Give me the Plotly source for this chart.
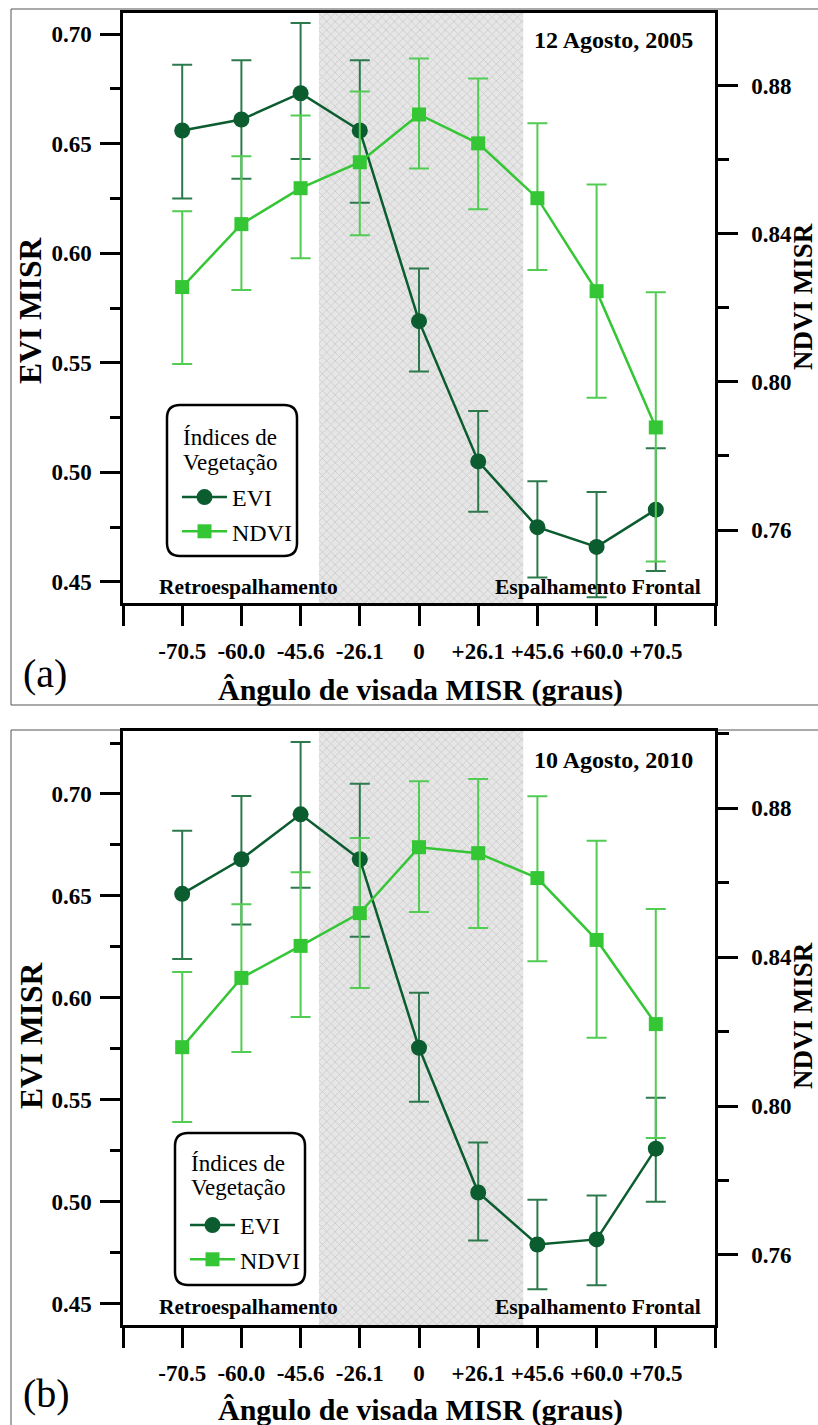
import plotly.graph_objects as go

W, H = 818, 1425

# ---------------- data ----------------
angles = ["-70.5", "-60.0", "-45.6", "-26.1", "0", "+26.1", "+45.6", "+60.0", "+70.5"]

# panel (a) 12 Agosto 2005
evi_a = [0.656, 0.661, 0.673, 0.656, 0.569, 0.505, 0.475, 0.466, 0.483]
evi_a_up = [0.686, 0.688, 0.705, 0.688, 0.593, 0.528, 0.496, 0.491, 0.511]
evi_a_lo = [0.625, 0.634, 0.643, 0.623, 0.546, 0.482, 0.452, 0.443, 0.455]
ndvi_a = [0.8256, 0.8426, 0.8523, 0.8593, 0.8722, 0.8644, 0.8496, 0.8245, 0.7877]
ndvi_a_up = [0.8461, 0.8609, 0.8719, 0.8784, 0.8873, 0.8819, 0.8698, 0.8533, 0.8242]
ndvi_a_lo = [0.8048, 0.8248, 0.8334, 0.8396, 0.8576, 0.8466, 0.8302, 0.7957, 0.7515]

# panel (b) 10 Agosto 2010
evi_b = [0.651, 0.668, 0.690, 0.668, 0.5755, 0.5045, 0.479, 0.4815, 0.526]
evi_b_up = [0.682, 0.699, 0.7255, 0.705, 0.6025, 0.529, 0.501, 0.503, 0.551]
evi_b_lo = [0.619, 0.636, 0.654, 0.630, 0.549, 0.481, 0.457, 0.459, 0.500]
ndvi_b = [0.8158, 0.8344, 0.8430, 0.8518, 0.8695, 0.8679, 0.8612, 0.8446, 0.8220]
ndvi_b_up = [0.8360, 0.8542, 0.8628, 0.8720, 0.8872, 0.8878, 0.8832, 0.8712, 0.8529]
ndvi_b_lo = [0.7957, 0.8145, 0.8239, 0.8317, 0.8521, 0.8478, 0.8389, 0.8183, 0.7914]

shade_x0, shade_x1 = 2.31, 5.76   # shaded (near-nadir) band, in category index units

# axis ranges
evi_range_a = [0.4404, 0.7096]
ndvi_range_a = [0.7403, 0.8996]
evi_range_b = [0.4395, 0.7309]
ndvi_range_b = [0.7412, 0.9007]

# ---------------- style ----------------
FONT = "Liberation Serif, Times New Roman, serif"
EVI_C = "#0b5c2f"
EVI_ERR = "#2c7a4c"
NDVI_C = "#34c634"
NDVI_ERR = "#52cc52"


def px(x):
    return x / W


def py(y):
    return 1 - y / H


xpos = list(range(len(angles)))
tickvals = list(range(-1, len(angles) + 1))
ticktext = [""] + angles + [""]

fig = go.Figure()


def add_panel(xa, ya, ya2, evi, eup, elo, ndvi, nup, nlo, erange, legend):
    # shaded band drawn as a patterned bar
    fig.add_trace(go.Bar(
        x=[(shade_x0 + shade_x1) / 2], y=[erange[1] - erange[0]], base=[erange[0]],
        width=[shade_x1 - shade_x0], xaxis=xa, yaxis=ya, showlegend=False, hoverinfo="skip",
        marker=dict(color="#e2e2e2", line_width=0,
                    pattern=dict(shape="x", fgcolor="#b2b2b2", bgcolor="#e6e6e6",
                                 size=6, solidity=0.28)),
    ))
    fig.add_trace(go.Scatter(
        x=xpos, y=evi, mode="lines+markers", name="EVI", xaxis=xa, yaxis=ya, legend=legend,
        line=dict(color=EVI_C, width=2.5),
        marker=dict(symbol="circle", size=16, color=EVI_C),
        error_y=dict(type="data", array=[u - v for u, v in zip(eup, evi)],
                     arrayminus=[v - l for v, l in zip(evi, elo)],
                     color=EVI_ERR, thickness=2, width=10),
    ))
    fig.add_trace(go.Scatter(
        x=xpos, y=ndvi, mode="lines+markers", name="NDVI", xaxis=xa, yaxis=ya2, legend=legend,
        line=dict(color=NDVI_C, width=2.5),
        marker=dict(symbol="square", size=14, color=NDVI_C),
        error_y=dict(type="data", array=[u - v for u, v in zip(nup, ndvi)],
                     arrayminus=[v - l for v, l in zip(ndvi, nlo)],
                     color=NDVI_ERR, thickness=2, width=10),
    ))


add_panel("x", "y", "y2", evi_a, evi_a_up, evi_a_lo, ndvi_a, ndvi_a_up, ndvi_a_lo, evi_range_a, "legend")
add_panel("x2", "y3", "y4", evi_b, evi_b_up, evi_b_lo, ndvi_b, ndvi_b_up, ndvi_b_lo, evi_range_b, "legend2")

tickfont = dict(family=FONT, size=23, color="black", weight="bold")
xdom = [px(123), px(715)]


def xaxis(anchor):
    return dict(domain=xdom, anchor=anchor, range=[-1, len(angles)], tickmode="array",
                tickvals=tickvals, ticktext=ticktext, ticks="outside", ticklen=20, tickwidth=2.5,
                tickcolor="black", showline=True, linewidth=2.5, linecolor="black", mirror=True,
                showgrid=False, zeroline=False, tickfont=tickfont, ticklabelstandoff=6,
                automargin=False)


def yleft(dom, rng, anchor):
    return dict(domain=dom, anchor=anchor, range=rng, tick0=0.45, dtick=0.05, tickformat=".2f",
                ticks="outside", ticklen=20, tickwidth=2.5, tickcolor="black",
                minor=dict(tick0=0.425, dtick=0.025, ticks="outside", ticklen=10, tickwidth=2.5,
                           tickcolor="black", showgrid=False),
                showline=True, linewidth=2.5, linecolor="black", showgrid=False, zeroline=False,
                tickfont=tickfont, ticklabelstandoff=4, automargin=False)


def yright(overlay, rng, anchor):
    return dict(overlaying=overlay, side="right", anchor=anchor, range=rng, tick0=0.76, dtick=0.04,
                tickformat=".2f", ticks="outside", ticklen=20, tickwidth=2.5, tickcolor="black",
                minor=dict(tick0=0.74, dtick=0.02, ticks="outside", ticklen=11, tickwidth=2.5,
                           tickcolor="black", showgrid=False),
                showline=True, linewidth=2.5, linecolor="black", showgrid=False, zeroline=False,
                tickfont=tickfont, ticklabelstandoff=9, automargin=False)


legfont = dict(family=FONT, size=24, color="black")


def legend(xp, yp):
    return dict(x=px(xp), y=py(yp), xanchor="left", yanchor="top", bgcolor="rgba(0,0,0,0)",
                borderwidth=0, font=legfont, itemwidth=45, tracegroupgap=0)


def rounded_box(x0, y0, x1, y1, r):
    X0, X1 = px(x0), px(x1)
    Y0, Y1 = py(y0), py(y1)
    rx, ry = r / W, r / H
    return (f"M{X0 + rx},{Y0} L{X1 - rx},{Y0} Q{X1},{Y0} {X1},{Y0 - ry} "
            f"L{X1},{Y1 + ry} Q{X1},{Y1} {X1 - rx},{Y1} L{X0 + rx},{Y1} "
            f"Q{X0},{Y1} {X0},{Y1 + ry} L{X0},{Y0 - ry} Q{X0},{Y0} {X0 + rx},{Y0} Z")


shapes = [
    dict(type="rect", xref="paper", yref="paper", x0=px(11), x1=1.01, y0=py(9), y1=py(705),
         line=dict(color="#555555", width=1), layer="below"),
    dict(type="rect", xref="paper", yref="paper", x0=px(11), x1=1.01, y0=py(730), y1=-0.01,
         line=dict(color="#555555", width=1), layer="below"),
    dict(type="path", xref="paper", yref="paper", path=rounded_box(167, 405, 297, 556, 13),
         line=dict(color="black", width=2.5)),
    dict(type="path", xref="paper", yref="paper", path=rounded_box(175, 1133, 305, 1285, 13),
         line=dict(color="black", width=2.5)),
]

annots = []


def ann(text, x, y, size, bold=True, xanchor="center", angle=0):
    annots.append(dict(text=text, x=px(x), y=py(y), xref="paper", yref="paper", showarrow=False,
                       xanchor=xanchor, yanchor="middle", textangle=angle,
                       font=dict(family=FONT, size=size, color="black",
                                 weight="bold" if bold else "normal")))


for (dy, date, lab, lx) in [(0, "12 Agosto, 2005", "(a)", 0), (725, "10 Agosto, 2010", "(b)", 8)]:
    sdy = dy - (5 if dy else 0)
    ann(date, 695, 40 + sdy, 24, xanchor="right")
    ann("Retroespalhamento", 157, 587 + sdy, 21.5, xanchor="left")
    ann("Espalhamento Frontal", 703, 587 + sdy, 21.5, xanchor="right")
    ann("Ângulo de visada MISR (graus)", 420, 690 + sdy, 30)
    ann(lab, 21, 673 + sdy, 40, bold=False, xanchor="left")
    ann("EVI MISR", 31, 311 + dy, 31.5, angle=-90)
    ann("NDVI MISR", 803, 297 + dy - (6 if dy else 0), 27, angle=-90)
    # legend title
    ann("Índices de", 181 + lx, 438 + dy, 23, bold=False, xanchor="left")
    ann("Vegetação", 181 + lx, 462 + dy, 23, bold=False, xanchor="left")

fig.update_layout(
    width=W, height=H, margin=dict(l=0, r=0, t=0, b=0),
    paper_bgcolor="white", plot_bgcolor="white",
    font=dict(family=FONT, color="black"),
    xaxis=xaxis("y"), xaxis2=xaxis("y3"),
    yaxis=yleft([py(603), py(13)], evi_range_a, "x"),
    yaxis2=yright("y", ndvi_range_a, "x"),
    yaxis3=yleft([py(1325), py(731)], evi_range_b, "x2"),
    yaxis4=yright("y3", ndvi_range_b, "x2"),
    legend=legend(177, 475),
    legend2=legend(185, 1203),
    shapes=shapes, annotations=annots, barmode="overlay",
)

fig.write_html("out.html")
